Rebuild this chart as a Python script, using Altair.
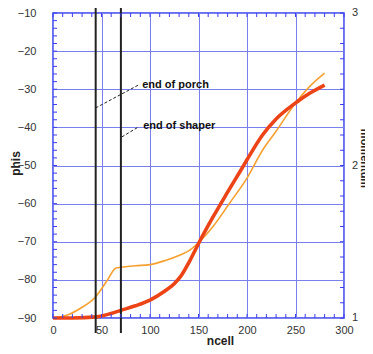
import altair as alt
import pandas as pd

# thick red curve (phis vs ncell)
red_ncell = [0, 20, 45, 60, 70, 85, 100, 115, 125, 131, 141, 151, 165, 180, 193, 200, 216, 230, 250, 265, 280]
red_phis = [-90, -90, -89.7, -88.8, -88.0, -86.8, -85.3, -83.0, -81.0, -79.3, -75.0, -70.0, -63.5, -57.0, -51.5, -48.5, -42.0, -37.8, -33.6, -31.0, -28.9]

# thin orange curve
org_ncell = [0, 14, 28, 43, 55, 65, 70, 85, 100, 115, 131, 141, 151, 165, 182, 200, 216, 230, 250, 263, 280]
org_phis = [-90, -89.3, -87.5, -84.7, -80.5, -76.9, -76.7, -76.3, -76.0, -75.0, -73.5, -72.2, -70.0, -66.0, -59.9, -53.3, -46.0, -41.0, -33.6, -29.7, -25.8]

# vertical markers
marker_ncell = [44, 70]

# annotations
ann_text = ["end of porch", "end of shaper"]
ann_x = [92, 93]
ann_y = [-28.9, -39.7]
lead_x1 = [44, 71]
lead_y1 = [-34.9, -42.5]
lead_x2 = [88, 88]
lead_y2 = [-28.9, -39.9]

# tick labels
x_labels = [0, 50, 100, 150, 200, 250, 300]
y_labels = [-90, -80, -70, -60, -50, -40, -30, -20, -10]
y2_labels = [1, 2, 3]
y2_label_text = ["1", "2", "3"]
x_minor = list(range(0, 301, 10))
y_minor = list(range(-90, -9, 2))
y2_minor = [round(1 + 0.1 * i, 1) for i in range(21)]

W, H = 291, 305
BLUE = "#3a3ff0"
GRID = "#7a7ff0"
FONT = "Liberation Sans"

xs = alt.Scale(domain=[0, 300], nice=False, zero=False)
ys = alt.Scale(domain=[-90, -10], nice=False, zero=False)
ys2 = alt.Scale(domain=[1, 3], nice=False, zero=False)

red_df = pd.DataFrame({"ncell": red_ncell, "phis": red_phis})
org_df = pd.DataFrame({"ncell": org_ncell, "phis": org_phis})

grid_layer = alt.Chart(red_df).mark_point(opacity=0).encode(
    x=alt.X("ncell:Q", scale=xs, axis=alt.Axis(
        values=x_labels, grid=True, gridColor=GRID, gridWidth=1, ticks=False, domain=False,
        labelFont=FONT, labelFontSize=11, labelColor="#333", labelPadding=6,
        title="ncell", titleFont=FONT, titleFontSize=12, titleFontWeight="bold", titleColor="#222",
        titleX=167, titleY=22, titleBaseline="middle", labelFlush=False)),
    y=alt.Y("phis:Q", scale=ys, axis=alt.Axis(
        values=y_labels, grid=True, gridColor=GRID, gridWidth=1, ticks=False, domain=False,
        labelFont=FONT, labelFontSize=11, labelColor="#333", labelPadding=17,
        title="phis", titleFont=FONT, titleFontSize=12, titleFontWeight="bold", titleColor="#222",
        titleX=-38, titleY=150, titleBaseline="middle", labelFlush=False)),
)

orange = alt.Chart(org_df).mark_line(color="#f6a030", strokeWidth=1.6, interpolate="monotone").encode(
    x=alt.X("ncell:Q", scale=xs), y=alt.Y("phis:Q", scale=ys, axis=None))
red = alt.Chart(red_df).mark_line(color="#ec4416", strokeWidth=3.6, interpolate="monotone").encode(
    x=alt.X("ncell:Q", scale=xs), y=alt.Y("phis:Q", scale=ys, axis=None))

markers = alt.Chart(pd.DataFrame({"ncell": marker_ncell})).mark_rule(
    color="#222", strokeWidth=2).encode(
    x=alt.X("ncell:Q", scale=xs), y=alt.value(-6), y2=alt.value(H + 15))

ann_df = pd.DataFrame({"t": ann_text, "x": ann_x, "y": ann_y,
                       "x1": lead_x1, "y1": lead_y1, "x2": lead_x2, "y2": lead_y2})
leaders = alt.Chart(ann_df).mark_rule(color="#222", strokeWidth=1, strokeDash=[3, 2]).encode(
    x=alt.X("x1:Q", scale=xs), x2="x2:Q",
    y=alt.Y("y1:Q", scale=ys, axis=None), y2="y2:Q")
texts = alt.Chart(ann_df).mark_text(align="left", baseline="middle", font=FONT,
                                    fontSize=11, fontWeight="bold", color="#111").encode(
    x=alt.X("x:Q", scale=xs), y=alt.Y("y:Q", scale=ys, axis=None), text="t:N")

xt = pd.DataFrame({"v": x_minor})
bottom_ticks = alt.Chart(xt).mark_rule(color=BLUE, strokeWidth=1).encode(
    x=alt.X("v:Q", scale=xs), y=alt.value(H), y2=alt.value(H - 4))
top_ticks = alt.Chart(xt).mark_rule(color=BLUE, strokeWidth=1).encode(
    x=alt.X("v:Q", scale=xs), y=alt.value(0), y2=alt.value(4))
left_ticks = alt.Chart(pd.DataFrame({"v": y_minor})).mark_rule(color=BLUE, strokeWidth=1).encode(
    y=alt.Y("v:Q", scale=ys, axis=None), x=alt.value(0), x2=alt.value(4))

right_ticks = alt.Chart(pd.DataFrame({"v": y2_minor})).mark_rule(color=BLUE, strokeWidth=1).encode(
    y=alt.Y("v:Q", scale=ys2, axis=alt.Axis(
        orient="right", values=y2_labels, labels=False, grid=False, ticks=False, domain=False,
        title="momentum", titleFont=FONT, titleFontSize=11, titleFontWeight="bold",
        titleColor="#222", titleAngle=90, titleX=19, titleY=145, titleBaseline="middle")),
    x=alt.value(W), x2=alt.value(W - 4))

right_labels = alt.Chart(pd.DataFrame({"v": y2_labels, "t": y2_label_text})).mark_text(
    align="left", baseline="middle", font=FONT, fontSize=11, color="#333").encode(
    y=alt.Y("v:Q", scale=ys2, axis=None), x=alt.value(W + 8), text="t:N")

chart = alt.layer(
    grid_layer, orange, red, markers, leaders, texts,
    bottom_ticks, top_ticks, left_ticks, right_ticks, right_labels
).resolve_scale(y="independent").properties(
    width=W, height=H,
    autosize=alt.AutoSizeParams(type="none"),
    padding={"left": 45, "top": 5, "right": 21, "bottom": 28},
    background="white",
).configure_view(stroke=BLUE, strokeWidth=1.5)

chart.save("out.html", embed_options={"renderer": "svg", "actions": False})
